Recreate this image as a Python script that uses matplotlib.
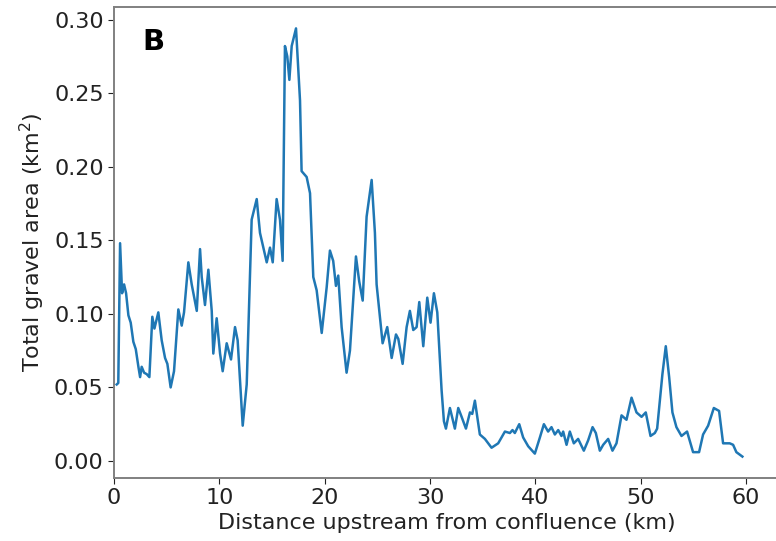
import numpy as np
import matplotlib
matplotlib.use("Agg")
import matplotlib.pyplot as plt

# Total gravel area along the channel, traced at ~0.3-0.5 km steps
distance_km = [
    0.25, 0.40, 0.57, 0.76, 0.95, 1.14, 1.36, 1.58, 1.83, 2.06, 2.31, 2.47, 2.62,
    2.85, 3.10, 3.35, 3.63, 3.83, 4.20, 4.52, 4.84, 5.06, 5.37, 5.69, 6.10, 6.42,
    6.64, 7.05, 7.37, 7.85, 8.16, 8.32, 8.63, 8.95, 9.27, 9.42, 9.74, 10.06, 10.31,
    10.69, 11.10, 11.48, 11.73, 12.21, 12.59, 13.06, 13.54, 13.85, 14.49, 14.80,
    15.06, 15.43, 15.75, 16.00, 16.22, 16.44, 16.64, 16.86, 17.27, 17.65, 17.80,
    18.28, 18.60, 18.91, 19.23, 19.71, 20.18, 20.49, 20.80, 21.06, 21.28, 21.60,
    22.07, 22.39, 22.96, 23.27, 23.60, 23.97, 24.45, 24.76, 24.92, 25.49, 25.93,
    26.35, 26.76, 26.98, 27.39, 27.77, 28.08, 28.40, 28.72, 28.97, 29.35, 29.73,
    30.04, 30.36, 30.68, 31.09, 31.31, 31.50, 31.88, 32.35, 32.67, 32.99, 33.40,
    33.78, 34.00, 34.25, 34.72, 35.20, 35.83, 36.46, 37.10, 37.57, 37.82, 38.04,
    38.46, 38.83, 39.31, 39.94, 40.42, 40.80, 41.20, 41.52, 41.84, 42.16, 42.47,
    42.63, 42.95, 43.26, 43.64, 44.05, 44.59, 45.00, 45.42, 45.73, 46.11, 46.43,
    46.90, 47.31, 47.69, 48.17, 48.64, 49.12, 49.59, 50.07, 50.47, 50.92, 51.33,
    51.55, 52.05, 52.37, 52.69, 53.00, 53.38, 53.86, 54.39, 54.96, 55.53, 55.91,
    56.39, 56.93, 57.43, 57.81, 58.44, 58.76, 59.07, 59.64,
]
gravel_area = [
    0.052, 0.053, 0.148, 0.114, 0.120, 0.114, 0.099, 0.094, 0.081, 0.076, 0.064,
    0.057, 0.064, 0.060, 0.059, 0.057, 0.098, 0.090, 0.101, 0.082, 0.070, 0.066,
    0.050, 0.061, 0.103, 0.092, 0.101, 0.135, 0.120, 0.102, 0.144, 0.125, 0.106,
    0.130, 0.102, 0.073, 0.097, 0.073, 0.061, 0.080, 0.069, 0.091, 0.082, 0.024,
    0.052, 0.164, 0.178, 0.155, 0.135, 0.145, 0.135, 0.178, 0.164, 0.136, 0.282,
    0.275, 0.259, 0.282, 0.294, 0.245, 0.197, 0.193, 0.182, 0.125, 0.116, 0.087,
    0.118, 0.143, 0.136, 0.119, 0.126, 0.091, 0.060, 0.075, 0.139, 0.122, 0.109,
    0.166, 0.191, 0.155, 0.120, 0.080, 0.091, 0.070, 0.086, 0.083, 0.066, 0.091,
    0.102, 0.089, 0.091, 0.108, 0.078, 0.111, 0.094, 0.114, 0.101, 0.048, 0.027,
    0.022, 0.036, 0.022, 0.036, 0.030, 0.022, 0.033, 0.032, 0.041, 0.018, 0.015,
    0.009, 0.012, 0.020, 0.019, 0.021, 0.019, 0.025, 0.016, 0.010, 0.005, 0.016,
    0.025, 0.020, 0.023, 0.018, 0.021, 0.017, 0.020, 0.011, 0.020, 0.012, 0.015,
    0.007, 0.014, 0.023, 0.019, 0.007, 0.011, 0.015, 0.007, 0.012, 0.031, 0.028,
    0.043, 0.033, 0.030, 0.033, 0.017, 0.019, 0.022, 0.059, 0.078, 0.057, 0.033,
    0.023, 0.017, 0.020, 0.006, 0.006, 0.018, 0.024, 0.036, 0.034, 0.012, 0.012,
    0.011, 0.006, 0.003,
]
panel_label = "B"

plt.rcParams["font.family"] = ["DejaVu Sans"]

fig = plt.figure(figsize=(7.76, 5.41), dpi=100)
# right edge runs just past the figure border, so only three spines show
ax = fig.add_axes([0.147, 0.1165, 0.858, 0.8706])

ax.plot(distance_km, gravel_area, color="#1f77b4", lw=1.8)
ax.set_xlim(0, 63.2)

ax.set_xlabel("Distance upstream from confluence (km)", fontsize=16, color="#222222",
              labelpad=3)
ax.set_ylabel("Total gravel area (km$^2$)", fontsize=16, color="#222222", labelpad=5)
ax.tick_params(labelsize=16, colors="#222222", length=4)
ax.set_yticks(np.arange(0, 0.31, 0.05))
ax.yaxis.set_major_formatter(matplotlib.ticker.FormatStrFormatter("%.2f"))

for sp in ax.spines.values():
    sp.set_color("#808080")
    sp.set_linewidth(1.4)

ax.text(0.042, 0.955, panel_label, transform=ax.transAxes, ha="left", va="top",
        fontsize=21, fontweight="bold", color="black")

fig.savefig("out.png", dpi=100)
